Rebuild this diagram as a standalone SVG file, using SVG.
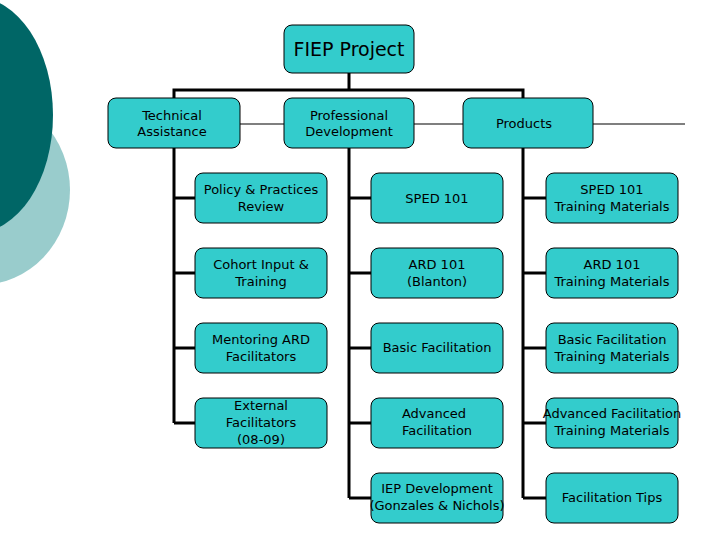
<svg xmlns="http://www.w3.org/2000/svg" width="720" height="540" viewBox="0 0 720 540">
<style>
.b{fill:#33cccc;stroke:#000;stroke-width:1}
.t{font-family:"DejaVu Sans",Verdana,sans-serif;font-size:13px;fill:#000;text-anchor:middle}
.k{stroke:#000;stroke-width:3;fill:none}
.n{stroke:#000;stroke-width:1.2;fill:none}
</style>
<rect width="720" height="540" fill="#fff"/>
<ellipse cx="-20" cy="190" rx="90" ry="95" fill="#99cccc"/>
<ellipse cx="-25" cy="115" rx="78" ry="118" fill="#006666"/>
<g id="connectors">
<path class="k" d="M349 73V90M174 98V90H523V98"/>
<path class="n" d="M240 124H284M414 124H463M593 124H685"/>
<path class="k" d="M174 148V423M174 198H195M174 273H195M174 348H195M174 423H195"/>
<path class="k" d="M349 148V498M349 198H371M349 273H371M349 348H371M349 423H371M349 498H371"/>
<path class="k" d="M523 148V498M523 198H546M523 273H546M523 348H546M523 423H546M523 498H546"/>
</g>
<g id="fiep"><rect class="b" x="284" y="25" width="130" height="48" rx="8"/><text class="t" x="349" y="56" style="font-size:19px">FIEP Project</text></g>
<g id="ta"><rect class="b" x="108" y="98" width="132" height="50" rx="8"/><text class="t" x="172" y="120">Technical</text><text class="t" x="172" y="136">Assistance</text></g>
<g id="pd"><rect class="b" x="284" y="98" width="130" height="50" rx="8"/><text class="t" x="349" y="120">Professional</text><text class="t" x="349" y="136">Development</text></g>
<g id="prod"><rect class="b" x="463" y="98" width="130" height="50" rx="8"/><text class="t" x="524" y="128">Products</text></g>
<g id="c1r1"><rect class="b" x="195" y="173" width="132" height="50" rx="8"/><text class="t" x="261" y="194">Policy &amp; Practices</text><text class="t" x="261" y="211">Review</text></g>
<g id="c1r2"><rect class="b" x="195" y="248" width="132" height="50" rx="8"/><text class="t" x="261" y="269">Cohort Input &amp;</text><text class="t" x="261" y="286">Training</text></g>
<g id="c1r3"><rect class="b" x="195" y="323" width="132" height="50" rx="8"/><text class="t" x="261" y="344">Mentoring ARD</text><text class="t" x="261" y="361">Facilitators</text></g>
<g id="c1r4"><rect class="b" x="195" y="398" width="132" height="50" rx="8"/><text class="t" x="261" y="410">External</text><text class="t" x="261" y="427">Facilitators</text><text class="t" x="261" y="444">(08-09)</text></g>
<g id="c2r1"><rect class="b" x="371" y="173" width="132" height="50" rx="8"/><text class="t" x="437" y="203">SPED 101</text></g>
<g id="c2r2"><rect class="b" x="371" y="248" width="132" height="50" rx="8"/><text class="t" x="437" y="269">ARD 101</text><text class="t" x="437" y="286">(Blanton)</text></g>
<g id="c2r3"><rect class="b" x="371" y="323" width="132" height="50" rx="8"/><text class="t" x="437" y="352">Basic Facilitation</text></g>
<g id="c2r4"><rect class="b" x="371" y="398" width="132" height="50" rx="8"/><text class="t" x="434" y="418">Advanced</text><text class="t" x="437" y="435">Facilitation</text></g>
<g id="c2r5"><rect class="b" x="371" y="473" width="132" height="50" rx="8"/><text class="t" x="437" y="493">IEP Development</text><text class="t" x="437" y="510">(Gonzales &amp; Nichols)</text></g>
<g id="c3r1"><rect class="b" x="546" y="173" width="132" height="50" rx="8"/><text class="t" x="612" y="194">SPED 101</text><text class="t" x="612" y="211">Training Materials</text></g>
<g id="c3r2"><rect class="b" x="546" y="248" width="132" height="50" rx="8"/><text class="t" x="612" y="269">ARD 101</text><text class="t" x="612" y="286">Training Materials</text></g>
<g id="c3r3"><rect class="b" x="546" y="323" width="132" height="50" rx="8"/><text class="t" x="612" y="344">Basic Facilitation</text><text class="t" x="612" y="361">Training Materials</text></g>
<g id="c3r4"><rect class="b" x="546" y="398" width="132" height="50" rx="8"/><text class="t" x="612" y="418">Advanced Facilitation</text><text class="t" x="612" y="435">Training Materials</text></g>
<g id="c3r5"><rect class="b" x="546" y="473" width="132" height="50" rx="8"/><text class="t" x="612" y="502">Facilitation Tips</text></g>
</svg>
